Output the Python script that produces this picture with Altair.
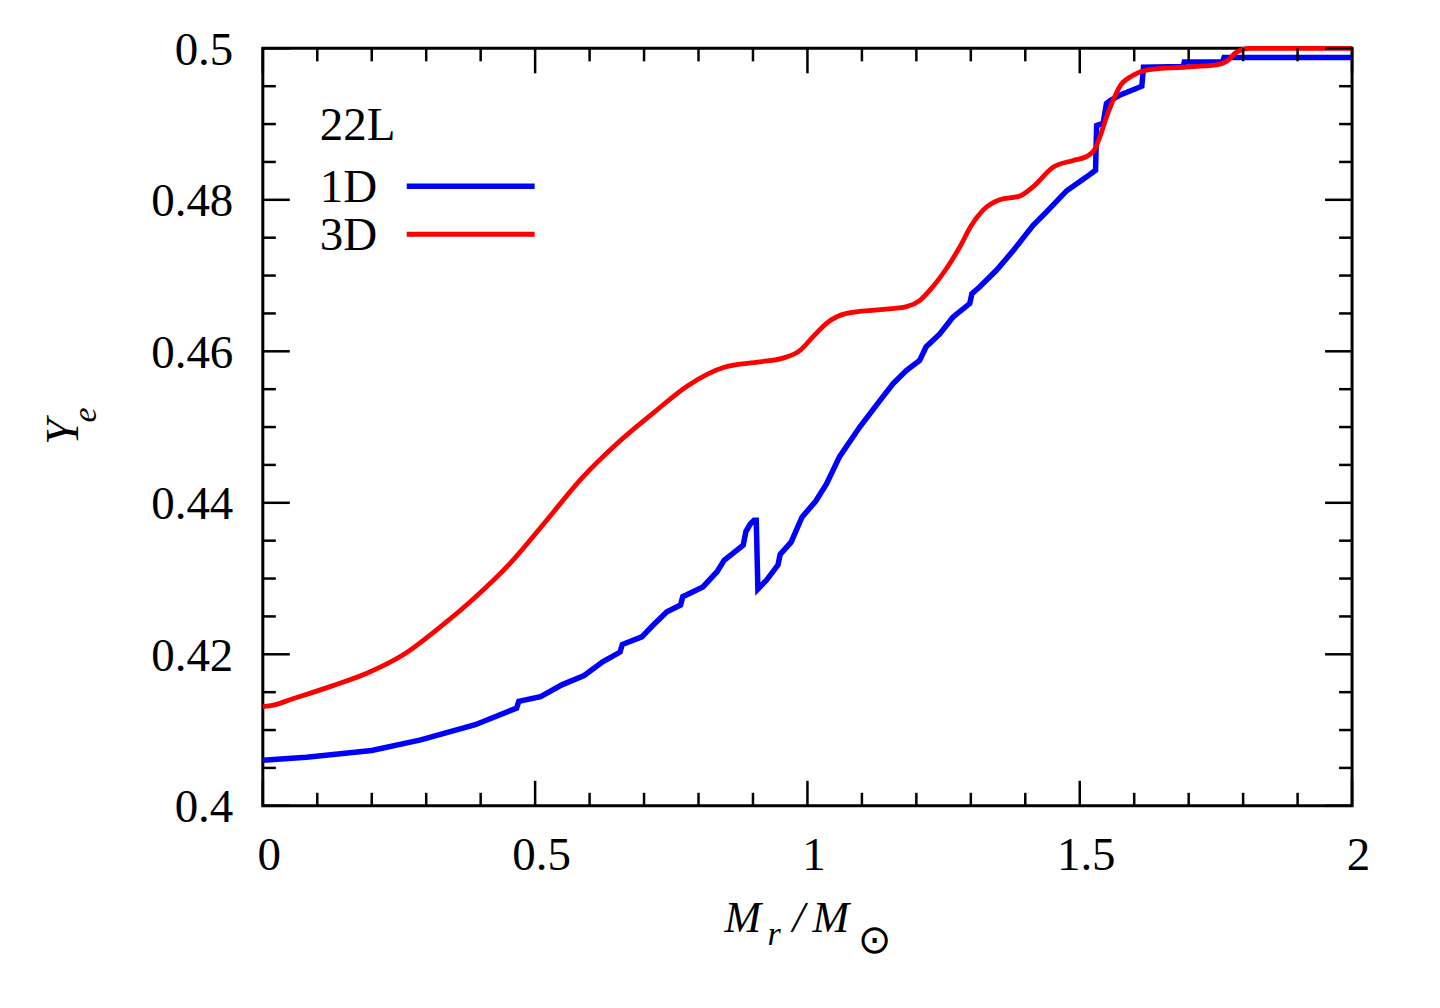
import altair as alt
import pandas as pd

# ---- data ----
x_1d = [0.000, 0.080, 0.200, 0.290, 0.390, 0.466, 0.470, 0.510, 0.550, 0.590,
        0.624, 0.656, 0.660, 0.696, 0.716, 0.742, 0.767, 0.771, 0.808, 0.834,
        0.847, 0.882, 0.887, 0.895, 0.902, 0.906, 0.909, 0.925, 0.946, 0.950,
        0.970, 0.990, 1.015, 1.035, 1.059, 1.096, 1.133, 1.157, 1.182, 1.206,
        1.218, 1.243, 1.267, 1.298, 1.302, 1.316, 1.347, 1.378, 1.414, 1.439,
        1.476, 1.512, 1.529, 1.531, 1.543, 1.549, 1.556, 1.573, 1.597, 1.614,
        1.617, 1.690, 1.692, 1.762, 1.765, 2.000]
ye_1d = [0.4060, 0.4064, 0.4073, 0.4087, 0.4107, 0.4129, 0.4138, 0.4144, 0.4160, 0.4172,
         0.4190, 0.4203, 0.4213, 0.4223, 0.4238, 0.4256, 0.4265, 0.4276, 0.4289, 0.4309,
         0.4324, 0.4344, 0.4362, 0.4372, 0.4377, 0.4377, 0.4286, 0.4298, 0.4318, 0.4332,
         0.4348, 0.4381, 0.4402, 0.4425, 0.4461, 0.4500, 0.4535, 0.4557, 0.4575, 0.4588,
         0.4606, 0.4623, 0.4645, 0.4663, 0.4676, 0.4685, 0.4707, 0.4733, 0.4766, 0.4784,
         0.4812, 0.4830, 0.4839, 0.4898, 0.4901, 0.4927, 0.4931, 0.4938, 0.4945, 0.4950,
         0.4975, 0.4976, 0.4982, 0.4982, 0.4988, 0.4988]

x_3d = [0.000, 0.020, 0.050, 0.126, 0.191, 0.257, 0.322, 0.388, 0.454, 0.519,
        0.585, 0.650, 0.716, 0.781, 0.847, 0.912, 0.955, 0.986, 1.010, 1.035,
        1.072, 1.133, 1.182, 1.206, 1.231, 1.255, 1.280, 1.300, 1.322, 1.353,
        1.390, 1.414, 1.451, 1.488, 1.512, 1.527, 1.537, 1.549, 1.561, 1.573,
        1.597, 1.628, 1.689, 1.751, 1.770, 1.788, 1.812, 2.000]
ye_3d = [0.4131, 0.4133, 0.4140, 0.4158, 0.4175, 0.4199, 0.4234, 0.4274, 0.4320, 0.4375,
         0.4432, 0.4478, 0.4518, 0.4555, 0.4579, 0.4586, 0.4591, 0.4601, 0.4619, 0.4637,
         0.4650, 0.4655, 0.4659, 0.4667, 0.4686, 0.4709, 0.4738, 0.4765, 0.4786, 0.4800,
         0.4805, 0.4817, 0.4843, 0.4852, 0.4857, 0.4866, 0.4883, 0.4909, 0.4931, 0.4949,
         0.4964, 0.4972, 0.4975, 0.4978, 0.4983, 0.4995, 0.5000, 0.5000]

x_major = [0, 0.5, 1, 1.5, 2]
x_minor = [0.1, 0.2, 0.3, 0.4, 0.6, 0.7, 0.8, 0.9, 1.1, 1.2, 1.3, 1.4, 1.6, 1.7, 1.8, 1.9]
y_major = [0.40, 0.42, 0.44, 0.46, 0.48, 0.50]
y_minor = [0.405, 0.41, 0.415, 0.425, 0.43, 0.435, 0.445, 0.45, 0.455,
           0.465, 0.47, 0.475, 0.485, 0.49, 0.495]

legend_title = "22L"
series_names = ["1D", "3D"]

# ---- layout ----
W, H = 1090, 758
FONT = "Liberation Serif"
FS = 47

xs = alt.Scale(domain=[0, 2], nice=False, zero=False)
ys = alt.Scale(domain=[0.4, 0.5], nice=False, zero=False)

df1 = pd.DataFrame({"x": x_1d, "y": ye_1d, "i": range(len(x_1d))})
df3 = pd.DataFrame({"x": x_3d, "y": ye_3d, "i": range(len(x_3d))})

xaxis = alt.Axis(values=x_major, format="~g", grid=False, domain=False, ticks=False,
                 tickSize=0, labelFont=FONT, labelFontSize=FS, labelColor="black",
                 labelPadding=64, labelBaseline="alphabetic", labelOffset=6,
                 labelFlush=False, labelOverlap=False, title=None)
yaxis = alt.Axis(values=y_major, format="~g", grid=False, domain=False, ticks=False,
                 tickSize=0, labelFont=FONT, labelFontSize=FS, labelColor="black",
                 labelPadding=30, labelBaseline="alphabetic", labelOffset=16,
                 labelFlush=False, labelOverlap=False, title=None)

line1 = alt.Chart(df1).mark_line(color="#0000ff", strokeWidth=5.5, clip=False).encode(
    x=alt.X("x:Q", scale=xs, axis=xaxis),
    y=alt.Y("y:Q", scale=ys, axis=yaxis),
    order="i:Q",
)
line3 = alt.Chart(df3).mark_line(color="#ff0000", strokeWidth=4.8, interpolate="monotone",
                                 clip=False).encode(
    x=alt.X("x:Q", scale=xs),
    y=alt.Y("y:Q", scale=ys),
    order="i:Q",
)

tick_w = 2.5
MAJ_X, MIN_X = 25, 13
MAJ_Y, MIN_Y = 27, 13

def xticks(vals, length):
    d = pd.DataFrame({"v": vals})
    b = alt.Chart(d).mark_rule(color="black", strokeWidth=tick_w).encode(
        x=alt.X("v:Q", scale=xs), y=alt.value(H), y2=alt.value(H - length))
    t = alt.Chart(d).mark_rule(color="black", strokeWidth=tick_w).encode(
        x=alt.X("v:Q", scale=xs), y=alt.value(0), y2=alt.value(length))
    return [b, t]

def yticks(vals, length):
    d = pd.DataFrame({"v": vals})
    l = alt.Chart(d).mark_rule(color="black", strokeWidth=tick_w).encode(
        y=alt.Y("v:Q", scale=ys), x=alt.value(0), x2=alt.value(length))
    r = alt.Chart(d).mark_rule(color="black", strokeWidth=tick_w).encode(
        y=alt.Y("v:Q", scale=ys), x=alt.value(W), x2=alt.value(W - length))
    return [l, r]

ticks = xticks(x_major, MAJ_X) + xticks(x_minor, MIN_X) + yticks(y_major, MAJ_Y) + yticks(y_minor, MIN_Y)

def label(text, x, y, size=FS, style="normal", font=FONT, align="left",
          baseline="alphabetic", angle=0):
    d = pd.DataFrame({"t": [text]})
    return alt.Chart(d).mark_text(font=font, fontSize=size, fontStyle=style, align=align,
                                  baseline=baseline, angle=angle, color="black").encode(
        x=alt.value(x), y=alt.value(y), text="t:N")

# legend
leg = [
    label(legend_title, 57, 92),
    label(series_names[0], 57, 154),
    label(series_names[1], 57, 202),
    alt.Chart(pd.DataFrame({"s": [series_names[0]]})).mark_rule(color="#0000ff", strokeWidth=5.5).encode(
        x=alt.value(144), x2=alt.value(272), y=alt.value(138)),
    alt.Chart(pd.DataFrame({"s": [series_names[1]]})).mark_rule(color="#ff0000", strokeWidth=5).encode(
        x=alt.value(144), x2=alt.value(272), y=alt.value(186)),
]

# axis titles
titles = [
    label("M", 462, 884, size=44, style="italic"),
    label("r", 505, 897, size=34, style="italic"),
    label("/", 530, 884, size=44, style="italic"),
    label("M", 550, 884, size=44, style="italic"),
    label("\u2299", 612, 893, size=40, font="DejaVu Sans", align="center", baseline="middle"),
    label("Y", -185, 384, size=46, style="italic", align="center", angle=270),
    label("e", -167, 367, size=34, style="italic", align="center", angle=270),
]

chart = alt.layer(line1, line3, *ticks, *leg, *titles).properties(
    width=W, height=H,
    background="white",
    autosize=alt.AutoSizeParams(type="none"),
    padding={"left": 255, "top": 40, "right": 80, "bottom": 200},
).configure_view(stroke="black", strokeWidth=3)

chart.save("out.html", embed_options={"renderer": "svg", "actions": False})
